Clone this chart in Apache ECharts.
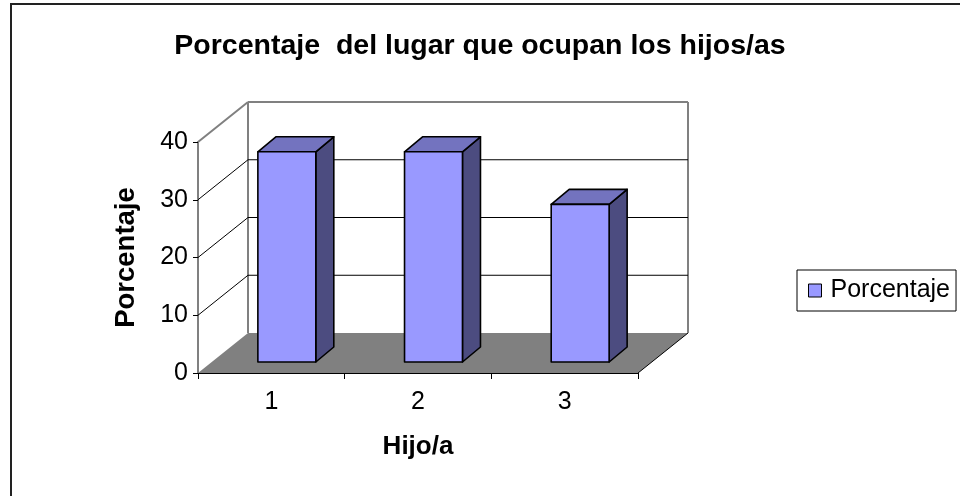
<!DOCTYPE html>
<html>
<head>
<meta charset="utf-8">
<script src="https://cdn.jsdelivr.net/npm/echarts@6/dist/echarts.min.js"></script>
<style>
  html, body { margin: 0; padding: 0; background: #fff; }
  #chart { width: 960px; height: 496px; }
</style>
</head>
<body>
<div id="chart"></div>
<script>
const categories = ['1', '2', '3']
const porcentaje = [36.4, 36.4, 27.3]
const yTicks = [0, 10, 20, 30, 40]

const FONT = '"Liberation Sans", Arial, sans-serif'
// desplazamiento 3D (pared del fondo respecto al plano frontal)
const DX = 50, DY = -40
// cara frontal y trasera de las barras
const FRONT = [15.5, -11], BACK = [33.5, -26]

const chart = echarts.init(document.getElementById('chart'))

// pared, suelo y lineas de division
const renderFrame = (params, api) => {
  const v = api.value(1)
  const bw = api.size([1, 0])[0]
  const xl = api.coord([0, v])[0] - bw / 2
  const xr = api.coord([categories.length - 1, v])[0] + bw / 2
  const y = api.coord([0, v])[1]
  const yTop = api.coord([0, yTicks[yTicks.length - 1]])[1]
  const isTop = v === yTicks[yTicks.length - 1]
  const children = []
  if (v === 0) {
    children.push({
      type: 'polygon',
      shape: { points: [[xl, y], [xr, y], [xr + DX, y + DY], [xl + DX, y + DY]] },
      style: { fill: '#808080' }
    })
    children.push({
      type: 'line',
      shape: { x1: xr, y1: y, x2: xr + DX, y2: y + DY },
      style: { stroke: '#000', lineWidth: 1 }
    })
    children.push({
      type: 'line',
      shape: { x1: xl + DX, y1: y + DY, x2: xl + DX, y2: yTop + DY },
      style: { stroke: '#808080', lineWidth: 2 }
    })
    children.push({
      type: 'line',
      shape: { x1: xr + DX, y1: y + DY, x2: xr + DX, y2: yTop + DY },
      style: { stroke: '#808080', lineWidth: 2 }
    })
  } else {
    const c = isTop ? '#808080' : '#000'
    children.push({
      type: 'line',
      shape: { x1: xl, y1: y, x2: xl + DX, y2: y + DY },
      style: { stroke: c, lineWidth: isTop ? 2 : 1 }
    })
    children.push({
      type: 'line',
      shape: { x1: xl + DX, y1: y + DY, x2: xr + DX, y2: y + DY },
      style: { stroke: c, lineWidth: isTop ? 2 : 1 }
    })
  }
  return { type: 'group', children }
}

// barras 3D
const renderBar = (params, api) => {
  const i = api.value(0)
  const v = api.value(1)
  const bw = api.size([1, 0])[0]
  const w = bw * 0.395
  const top = api.coord([i, v])
  const base = api.coord([i, 0])
  const x0 = top[0] - w / 2 + FRONT[0]
  const x1 = x0 + w
  const yb = base[1] + FRONT[1]
  const yt = top[1] + FRONT[1]
  const ddx = BACK[0] - FRONT[0], ddy = BACK[1] - FRONT[1]
  const line = { stroke: '#000', lineWidth: 1.6, lineJoin: 'round' }
  return {
    type: 'group',
    children: [
      {
        type: 'polygon',
        shape: { points: [[x1, yb], [x1 + ddx, yb + ddy], [x1 + ddx, yt + ddy], [x1, yt]] },
        style: Object.assign({ fill: '#4C4C80' }, line)
      },
      {
        type: 'polygon',
        shape: { points: [[x0, yt], [x1, yt], [x1 + ddx, yt + ddy], [x0 + ddx, yt + ddy]] },
        style: Object.assign({ fill: '#7373BF' }, line)
      },
      {
        type: 'rect',
        shape: { x: x0, y: yt, width: w, height: yb - yt },
        style: Object.assign({ fill: '#9999FF' }, line)
      }
    ]
  }
}

chart.setOption({
  animation: false,
  textStyle: { fontFamily: FONT },
  title: {
    text: 'Porcentaje  del lugar que ocupan los hijos/as',
    left: 'center',
    top: 27,
    textStyle: { fontFamily: FONT, fontSize: 28.5, fontWeight: 'bold', color: '#000' }
  },
  graphic: [{
    type: 'rect',
    shape: { x: 11, y: 4, width: 1000, height: 1000 },
    style: { fill: 'none', stroke: '#222', lineWidth: 2 },
    silent: true
  }],
  legend: {
    data: [{ name: 'Porcentaje', icon: 'rect' }],
    left: 797,
    top: 270,
    orient: 'vertical',
    padding: [8, 6, 8, 11],
    borderColor: '#000',
    borderWidth: 1,
    itemWidth: 13,
    itemHeight: 13,
    itemStyle: { borderColor: '#000', borderWidth: 1 },
    textStyle: { fontFamily: FONT, fontSize: 25, color: '#000', padding: [0, 0, 0, 4] }
  },
  grid: { left: 198, right: 322, top: 142, bottom: 123 },
  xAxis: {
    type: 'category',
    data: categories,
    name: 'Hijo/a',
    nameLocation: 'middle',
    nameGap: 61,
    nameTextStyle: { fontFamily: FONT, fontSize: 26, fontWeight: 'bold', color: '#000' },
    axisLine: { lineStyle: { color: '#000', width: 1 } },
    axisTick: { show: true, length: 6, lineStyle: { color: '#000' } },
    axisLabel: { fontFamily: FONT, fontSize: 25, color: '#000', margin: 17 },
    splitLine: { show: false }
  },
  yAxis: {
    type: 'value',
    min: 0,
    max: 40,
    interval: 10,
    name: 'Porcentaje',
    nameLocation: 'middle',
    nameGap: 58,
    nameTextStyle: { fontFamily: FONT, fontSize: 27.5, fontWeight: 'bold', color: '#000' },
    axisLine: { show: true, lineStyle: { color: '#808080', width: 2 } },
    axisTick: { show: true, length: 5, lineStyle: { color: '#000' } },
    axisLabel: { fontFamily: FONT, fontSize: 25, color: '#000', margin: 10 },
    splitLine: { show: false }
  },
  series: [
    {
      name: 'marco',
      type: 'custom',
      silent: true,
      z: 1,
      renderItem: renderFrame,
      encode: { x: 0, y: 1 },
      data: yTicks.map(v => [0, v])
    },
    {
      name: 'Porcentaje',
      type: 'custom',
      z: 3,
      itemStyle: { color: '#9999FF' },
      renderItem: renderBar,
      encode: { x: 0, y: 1 },
      data: porcentaje.map((v, i) => [i, v])
    }
  ]
})
</script>
</body>
</html>
